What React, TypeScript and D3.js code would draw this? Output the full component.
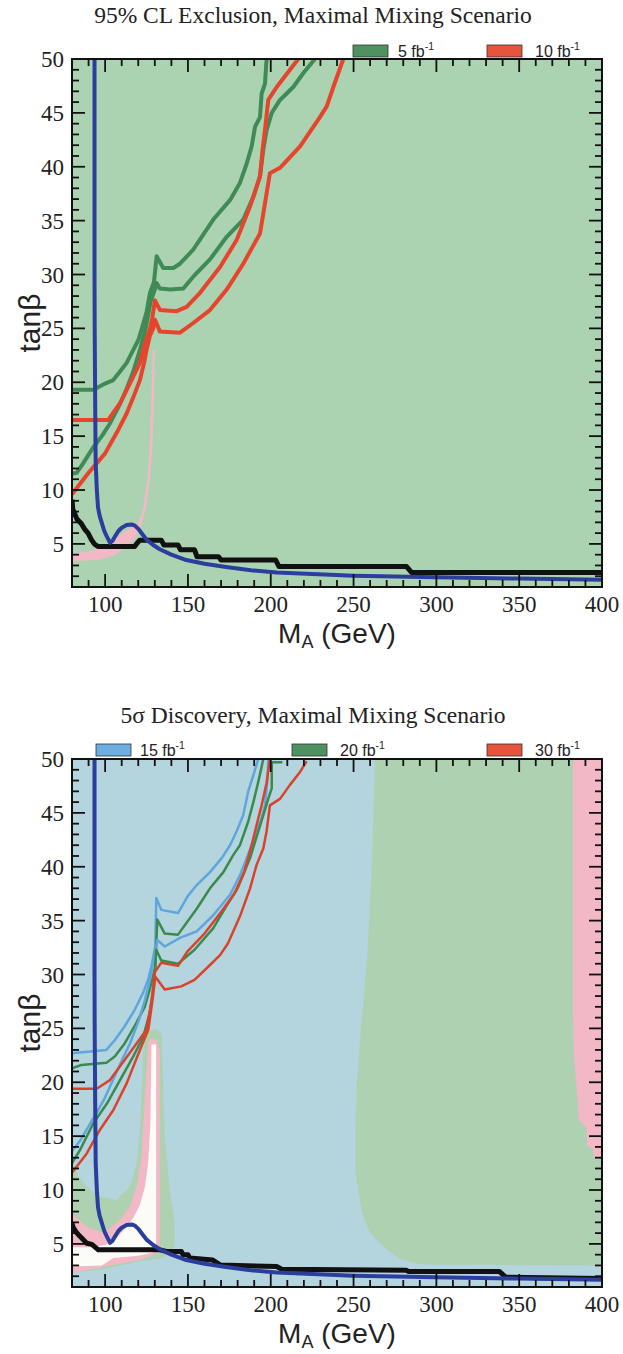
import React from "react";
import * as d3 from "d3";

type Pt = [number, number];

// ---------- axes ----------
const xDomain: [number, number] = [80, 400];
const yDomain: [number, number] = [1, 50];
const xTickValues = [100, 150, 200, 250, 300, 350, 400];
const yTickValues = [5, 10, 15, 20, 25, 30, 35, 40, 45, 50];

// ---------- shared LEP-like boundary (thick blue) ----------
const blueBoundary: Pt[] = [
  [93.6, 50], [93.6, 30], [93.7, 25], [94.0, 18], [94.3, 12.5], [95.0, 10], [95.7, 8.4],
  [96.7, 7.6], [97.9, 7.0], [99.5, 6.2], [101, 5.7], [103, 5.1], [104.5, 5.3], [106, 5.7],
  [108, 6.2], [110, 6.5], [113, 6.75], [116, 6.8], [118, 6.7], [120, 6.4], [122.5, 5.9],
  [125, 5.4], [129, 4.9], [133, 4.5], [140, 4.0], [149, 3.5], [160, 3.15], [173, 2.85],
  [188, 2.55], [203.6, 2.35], [225, 2.2], [250, 2.05], [300, 1.9], [350, 1.78], [400, 1.68],
];

// ---------- top panel: 95% CL exclusion ----------
const topBlack: Pt[] = [
  [80, 9.1], [80.5, 8.2], [81.6, 7.8], [83, 7.3], [85.6, 6.9], [87.5, 6.4], [89.7, 6.0],
  [91.7, 5.4], [93.5, 5.0], [95.7, 4.75], [117.8, 4.75], [119.5, 5.1], [120.9, 5.35],
  [133.9, 5.35], [135.5, 4.9], [144, 4.9], [145.5, 4.45], [154, 4.45], [155.5, 3.8],
  [168.5, 3.8], [170, 3.5], [203, 3.5], [205, 2.9], [282, 2.9], [285, 2.35], [400, 2.35],
];
const topGreenA: Pt[] = [
  [80, 19.3], [92.9, 19.3], [98.9, 19.8], [104.9, 20.2], [109, 21.0], [113, 21.8], [116, 22.7],
  [120, 23.9], [122, 24.9], [125, 26.5], [127.1, 28.3], [129.5, 29.3], [130.3, 30.5],
  [131.1, 31.7], [135.1, 30.6], [141.2, 30.6], [145.2, 31.0], [153.2, 32.3], [165.3, 35.1],
  [175.4, 36.9], [181.4, 38.5], [185.5, 40.3], [188.5, 41.9], [190.5, 43.7], [193.5, 44.6],
  [194.5, 46.8], [196.5, 47.7], [197.5, 50],
];
const topGreenB: Pt[] = [
  [80, 11.5], [82.8, 11.6], [86.8, 12.5], [93, 14.0], [98, 15], [103, 16.2], [109, 18],
  [113, 19.4], [117, 21], [121, 23], [124.5, 25], [127.5, 27.5], [130, 28.6], [131.1, 29.2],
  [133, 28.7], [139.2, 28.6], [147.2, 28.7], [153.2, 29.8], [163.3, 31.4], [173.4, 33.5],
  [183.4, 35.1], [189.5, 37.2], [193.5, 39.1], [195.5, 41.6], [197.5, 43.4], [200.6, 45.0],
  [205.6, 46.2], [213.6, 47.4], [219.7, 48.7], [226.7, 50],
];
const topRedC: Pt[] = [
  [80, 16.5], [101.9, 16.5], [105, 17.2], [109, 18.05], [115, 19.9], [121, 21.8], [124, 23.6],
  [127, 24.9], [128.5, 26], [130.1, 27.6], [133.1, 26.7], [143.2, 26.6], [149.2, 27.0],
  [157.3, 28.3], [169.4, 30.7], [179.4, 33.2], [187.5, 36.3], [193.5, 39.1], [195, 41.5],
  [196.5, 43.4], [198.5, 46.2], [203.6, 47.4], [211.6, 49.0], [216.6, 50],
];
const topRedD: Pt[] = [
  [80, 9.6], [85, 10.6], [90, 11.6], [95, 12.5], [100, 13.4], [104, 14.5], [108, 15.6],
  [113, 17.1], [117, 18.6], [121, 20.2], [123.5, 21.8], [125, 23], [127, 24.3], [129, 25.0],
  [130.1, 25.8], [133.1, 24.7], [145.2, 24.6], [153.2, 25.5], [163.3, 26.7], [173.4, 28.6],
  [183.4, 31.0], [193.5, 33.8], [199.5, 39.4], [205.6, 39.9], [217.7, 41.9], [229.7, 44.6],
  [233.8, 45.6], [237.8, 47.4], [243.8, 50],
];
const topPinkBand: Pt[] = [
  [80, 3.4], [95, 3.5], [105, 3.9], [112, 4.6], [118, 5.5], [122, 6.8], [125, 8.5], [127, 11],
  [128.5, 14], [129.5, 18], [130, 23], [128.8, 23], [127.8, 18], [126.8, 14], [125.5, 11],
  [123.5, 8.8], [122, 7.8], [120, 7.0], [117, 6.6], [112, 6.2], [107, 5.6], [102, 5.0],
  [97, 4.6], [90, 4.3], [80, 4.1],
];

// ---------- bottom panel: 5 sigma discovery ----------
const botBlack: Pt[] = [
  [80, 6.9], [80.8, 6.5], [82.5, 6.1], [84.8, 5.7], [88.9, 5.06], [92, 4.95], [95.9, 4.45],
  [133.1, 4.45], [137, 4.3], [146, 4.3], [147, 4.0], [150, 4.0], [151, 3.7], [165, 3.5],
  [169.4, 3.05], [203.6, 2.9], [206.6, 2.65], [282, 2.55], [283, 2.45], [338, 2.45],
  [342, 1.9], [400, 1.8],
];
const botBlue1: Pt[] = [
  [80, 22.7], [100.7, 23.0], [105.8, 23.9], [111.8, 25.2], [117.8, 26.7], [122.9, 28.3],
  [125.9, 29.5], [127.9, 30.7], [130.3, 32.6], [130.9, 37.1], [133.9, 36.0], [144, 35.7],
  [150, 37.3], [155.3, 38.3], [163.3, 39.5], [170.4, 40.8], [175.4, 42.0], [179.4, 43.3],
  [183.4, 44.8], [186.4, 47.0], [189.5, 48.5], [192.5, 50],
];
const botGreen1: Pt[] = [
  [80, 21.3], [85.6, 21.6], [100.7, 21.8], [105.8, 22.4], [111.8, 23.6], [117.8, 25.2],
  [123.9, 27.0], [126.9, 28.6], [130.3, 30.7], [131.5, 35.1], [136, 33.8], [144, 33.7],
  [155.3, 36.1], [163.3, 38.0], [171.4, 39.5], [177.4, 41.1], [181.4, 42.0], [186.4, 44.2],
  [189.5, 46.0], [192.5, 47.9], [195.5, 50],
];
const botBlue2: Pt[] = [
  [80, 13.6], [85, 14.6], [90, 15.9], [95, 17.2], [100, 18.6], [105, 20.3], [110, 22.0],
  [115, 23.6], [120, 25.6], [124, 27.6], [127, 29.5], [129.5, 31.5], [131.5, 33.2],
  [136, 32.6], [145.2, 33.4], [155.3, 34.0], [165.3, 35.5], [175.4, 37.4], [181.4, 39.2],
  [185.5, 40.8], [191.5, 43.3], [194.5, 44.5], [196.5, 45.7], [198, 48], [198.5, 50],
];
const botGreen2: Pt[] = [
  [80, 12.5], [84.8, 13.7], [92.9, 16.2], [101, 18.0], [109, 20.2], [117, 22.4], [123, 24.2],
  [127, 26.5], [129.5, 29], [130.9, 32.3], [133.9, 31.3], [144, 31.0], [154, 32.3],
  [165.3, 34.3], [173, 36.3], [180, 38], [187.5, 40.8], [191.5, 42.8], [195.5, 44.8],
  [198.5, 46.3], [200.6, 47.3], [200.6, 49.7], [207, 49.7],
];
const botRed1: Pt[] = [
  [80, 19.4], [94.9, 19.4], [102.9, 20.2], [111, 21.9], [119, 23.6], [125.1, 24.9],
  [128, 27.5], [130, 30.2], [133.9, 31.1], [144, 30.8], [150, 32.2], [160, 33.8],
  [170, 35.8], [178, 37.5], [184, 39.5], [188, 41.7], [191.5, 43.9], [194.5, 45.7],
  [197.5, 47.8], [199.5, 50],
];
const botRed2: Pt[] = [
  [80, 11.6], [88.9, 13.4], [96.9, 15.6], [104.9, 17.4], [113, 19.9], [121, 23.0],
  [126.1, 24.9], [128.5, 27.5], [130.3, 29.8], [136, 28.6], [146, 28.9], [154, 29.5],
  [164.1, 31.0], [169.4, 31.8], [174.2, 32.9], [181.4, 35.4], [187.5, 38.0], [191.5, 40.2],
  [195.5, 41.7], [197.5, 43.3], [199.5, 45.7], [202.5, 46.0], [205.6, 46.3], [211.6, 47.6],
  [217.7, 48.8], [221.7, 49.8],
];
const botGreenRight: Pt[] = [
  [263, 50], [400, 50], [400, 3.0], [393, 3.0], [290, 3.1], [278, 3.6], [270, 4.5], [263, 5.5],
  [259, 6.3], [255, 8], [253, 9.8], [251, 12], [251, 15.2], [252, 20], [254, 24.1],
  [256.5, 28.5], [258.8, 33.0], [261, 40],
];
const botPinkRight: Pt[] = [
  [382.5, 50], [400, 50], [400, 13], [395, 13], [394.5, 13.8], [391, 14.1], [390.5, 15.8],
  [386, 16.5], [384.7, 19.5], [383, 22.5], [382.5, 26],
];
const botGreenLeft: Pt[] = [
  [80, 12.8], [84, 11.2], [88.9, 10.3], [96.9, 9.4], [107, 9.1], [115, 10.3], [119, 12.5],
  [121, 15.6], [122, 18.7], [123, 23.0], [124.5, 24.5], [130, 25], [134, 24.5], [135, 20],
  [136, 15], [139, 10], [142, 7], [142, 4.75], [137, 3.9], [133, 3.6], [121, 3.4], [100, 2.7],
  [80, 2.3],
];
const botPinkLeft: Pt[] = [
  [80, 7.8], [88.9, 6.6], [98.9, 6.0], [109, 7.2], [115, 8.5], [119, 10.3], [122, 13.1],
  [124, 18.7], [126, 23.6], [127, 24], [131, 24], [133, 23], [133, 5], [133, 4.2], [121, 3.5],
  [103, 3.0], [90, 2.6], [80, 2.3],
];
const botWhiteLeft: Pt[] = [
  [80, 4.7], [92, 4.7], [100, 4.9], [106, 5.4], [112, 6.4], [117, 7.4], [121, 8.6],
  [124, 10.3], [126, 12.5], [127.3, 16], [128, 23.5], [130.8, 23.5], [130.8, 5.0], [129, 4.2],
  [120, 3.9], [105, 3.7], [98, 3.0], [80, 2.9],
];

// ---------- styling ----------
const SERIF = "'Liberation Serif', 'Times New Roman', Times, serif";
const SANS = "'Liberation Sans', Arial, Helvetica, sans-serif";
const C = {
  bgGreen: "#acd3b1",
  bgBlue: "#b4d4de",
  regGreen: "#aed1b1",
  pink: "#f3b8c5",
  white: "#fbfbf8",
  thickBlue: "#2b3e9e",
  black: "#111111",
  green: "#3f8a55",
  red: "#e6442c",
  lightBlue: "#5ea6dc",
  greenThin: "#3a8a4e",
  redThin: "#d9432c",
  swGreen: "#4f9262",
  swRed: "#e7543c",
  swBlue: "#6caee2",
};

const W = 623;
const H = 1354;
const plotLeft = 72;
const plotRight = 602;
const plotH = 528;

type LegendItem = { color: string; label: string; sx: number; tx: number };
type Region = { pts: Pt[]; fill: string };
type LineSpec = { pts: Pt[]; stroke: string; width: number };

function Panel(props: {
  top: number;
  id: string;
  title: string;
  titleY: number;
  legendY: number;
  legend: LegendItem[];
  bg: string;
  regions: Region[];
  lines: LineSpec[];
}) {
  const { top, id, title, titleY, legendY, legend, bg, regions, lines } = props;
  const x = d3.scaleLinear().domain(xDomain).range([plotLeft, plotRight]);
  const y = d3.scaleLinear().domain(yDomain).range([top + plotH, top]);
  const line = d3
    .line<Pt>()
    .x((d) => x(d[0]))
    .y((d) => y(d[1]));
  const area = (pts: Pt[]) => line(pts) + "Z";
  const bottom = top + plotH;
  const xMinor = d3.range(90, 400, 10);
  const yMinor = d3.range(2, 50, 1);
  const major = 13;
  const minor = 7;
  return (
    <g>
      <defs>
        <clipPath id={id}>
          <rect x={plotLeft} y={top} width={plotRight - plotLeft} height={plotH} />
        </clipPath>
      </defs>
      <text x={313} y={titleY} textAnchor="middle" fontFamily={SERIF} fontSize={23.5} fill="#222">
        {title}
      </text>
      {legend.map((l, i) => (
        <g key={i}>
          <rect x={l.sx} y={legendY - 12} width={35} height={12} fill={l.color} stroke="#333" strokeWidth={0.8} />
          <text x={l.tx} y={legendY} fontFamily={SANS} fontSize={16} fill="#222">
            {l.label}
            <tspan fontSize={10.5} dy={-7}>-1</tspan>
          </text>
        </g>
      ))}
      <g clipPath={`url(#${id})`}>
        <rect x={plotLeft} y={top} width={plotRight - plotLeft} height={plotH} fill={bg} />
        {regions.map((r, i) => (
          <path key={i} d={area(r.pts)} fill={r.fill} stroke="none" />
        ))}
        {lines.map((l, i) => (
          <path
            key={i}
            d={line(l.pts) || ""}
            fill="none"
            stroke={l.stroke}
            strokeWidth={l.width}
            strokeLinejoin="round"
            strokeLinecap="butt"
          />
        ))}
      </g>
      {/* ticks */}
      <g stroke="#111" strokeWidth={1.8}>
        {xMinor.map((v) => {
          const len = xTickValues.includes(v) ? major : minor;
          return (
            <g key={"x" + v}>
              <line x1={x(v)} x2={x(v)} y1={bottom} y2={bottom - len} />
              <line x1={x(v)} x2={x(v)} y1={top} y2={top + len} />
            </g>
          );
        })}
        {yMinor.map((v) => {
          const len = yTickValues.includes(v) ? major : minor;
          return (
            <g key={"y" + v}>
              <line x1={plotLeft} x2={plotLeft + len} y1={y(v)} y2={y(v)} />
              <line x1={plotRight} x2={plotRight - len} y1={y(v)} y2={y(v)} />
            </g>
          );
        })}
      </g>
      <rect
        x={plotLeft}
        y={top}
        width={plotRight - plotLeft}
        height={plotH}
        fill="none"
        stroke="#111"
        strokeWidth={2}
      />
      {xTickValues.map((v) => (
        <text key={"xl" + v} x={x(v)} y={bottom + 25} textAnchor="middle" fontFamily={SERIF} fontSize={23} fill="#222">
          {v}
        </text>
      ))}
      {yTickValues.map((v) => (
        <text
          key={"yl" + v}
          x={plotLeft - 8}
          y={y(v) + 8}
          textAnchor="end"
          fontFamily={SERIF}
          fontSize={23}
          fill="#222"
        >
          {v}
        </text>
      ))}
      <text
        transform={`translate(40, ${top + plotH / 2}) rotate(-90)`}
        textAnchor="middle"
        fontFamily={SANS}
        fontSize={30}
        fill="#222"
      >
        tanβ
      </text>
      <text x={337} y={bottom + 56} textAnchor="middle" fontFamily={SANS} fontSize={28} fill="#222">
        M
        <tspan fontSize={18} dy={5}>A</tspan>
        <tspan dy={-5}> (GeV)</tspan>
      </text>
    </g>
  );
}

export default function App() {
  return (
    <svg
      width={W}
      height={H}
      viewBox={`0 0 ${W} ${H}`}
      style={{ position: "absolute", left: 0, top: 0, display: "block", background: "#fff" }}
    >
      <Panel
        top={59}
        id="clipTop"
        title="95% CL Exclusion, Maximal Mixing Scenario"
        titleY={23}
        legendY={57}
        legend={[
          { color: C.swGreen, label: "5 fb", sx: 353, tx: 398 },
          { color: C.swRed, label: "10 fb", sx: 487, tx: 535 },
        ]}
        bg={C.bgGreen}
        regions={[{ pts: topPinkBand, fill: C.pink }]}
        lines={[
          { pts: topGreenA, stroke: C.green, width: 4 },
          { pts: topGreenB, stroke: C.green, width: 4 },
          { pts: topRedC, stroke: C.red, width: 4 },
          { pts: topRedD, stroke: C.red, width: 4 },
          { pts: topBlack, stroke: C.black, width: 5 },
          { pts: blueBoundary, stroke: C.thickBlue, width: 4 },
        ]}
      />
      <Panel
        top={759}
        id="clipBot"
        title="5σ Discovery, Maximal Mixing Scenario"
        titleY={723}
        legendY={756}
        legend={[
          { color: C.swBlue, label: "15 fb", sx: 96, tx: 140 },
          { color: C.swGreen, label: "20 fb", sx: 292, tx: 340 },
          { color: C.swRed, label: "30 fb", sx: 487, tx: 535 },
        ]}
        bg={C.bgBlue}
        regions={[
          { pts: botGreenRight, fill: C.regGreen },
          { pts: botPinkRight, fill: C.pink },
          { pts: botGreenLeft, fill: C.regGreen },
          { pts: botPinkLeft, fill: C.pink },
          { pts: botWhiteLeft, fill: C.white },
        ]}
        lines={[
          { pts: botBlue1, stroke: C.lightBlue, width: 2.5 },
          { pts: botGreen1, stroke: C.greenThin, width: 2.5 },
          { pts: botBlue2, stroke: C.lightBlue, width: 2.5 },
          { pts: botGreen2, stroke: C.greenThin, width: 2.5 },
          { pts: botRed1, stroke: C.redThin, width: 2.5 },
          { pts: botRed2, stroke: C.redThin, width: 2.5 },
          { pts: botBlack, stroke: C.black, width: 5 },
          { pts: blueBoundary, stroke: C.thickBlue, width: 4 },
        ]}
      />
    </svg>
  );
}
